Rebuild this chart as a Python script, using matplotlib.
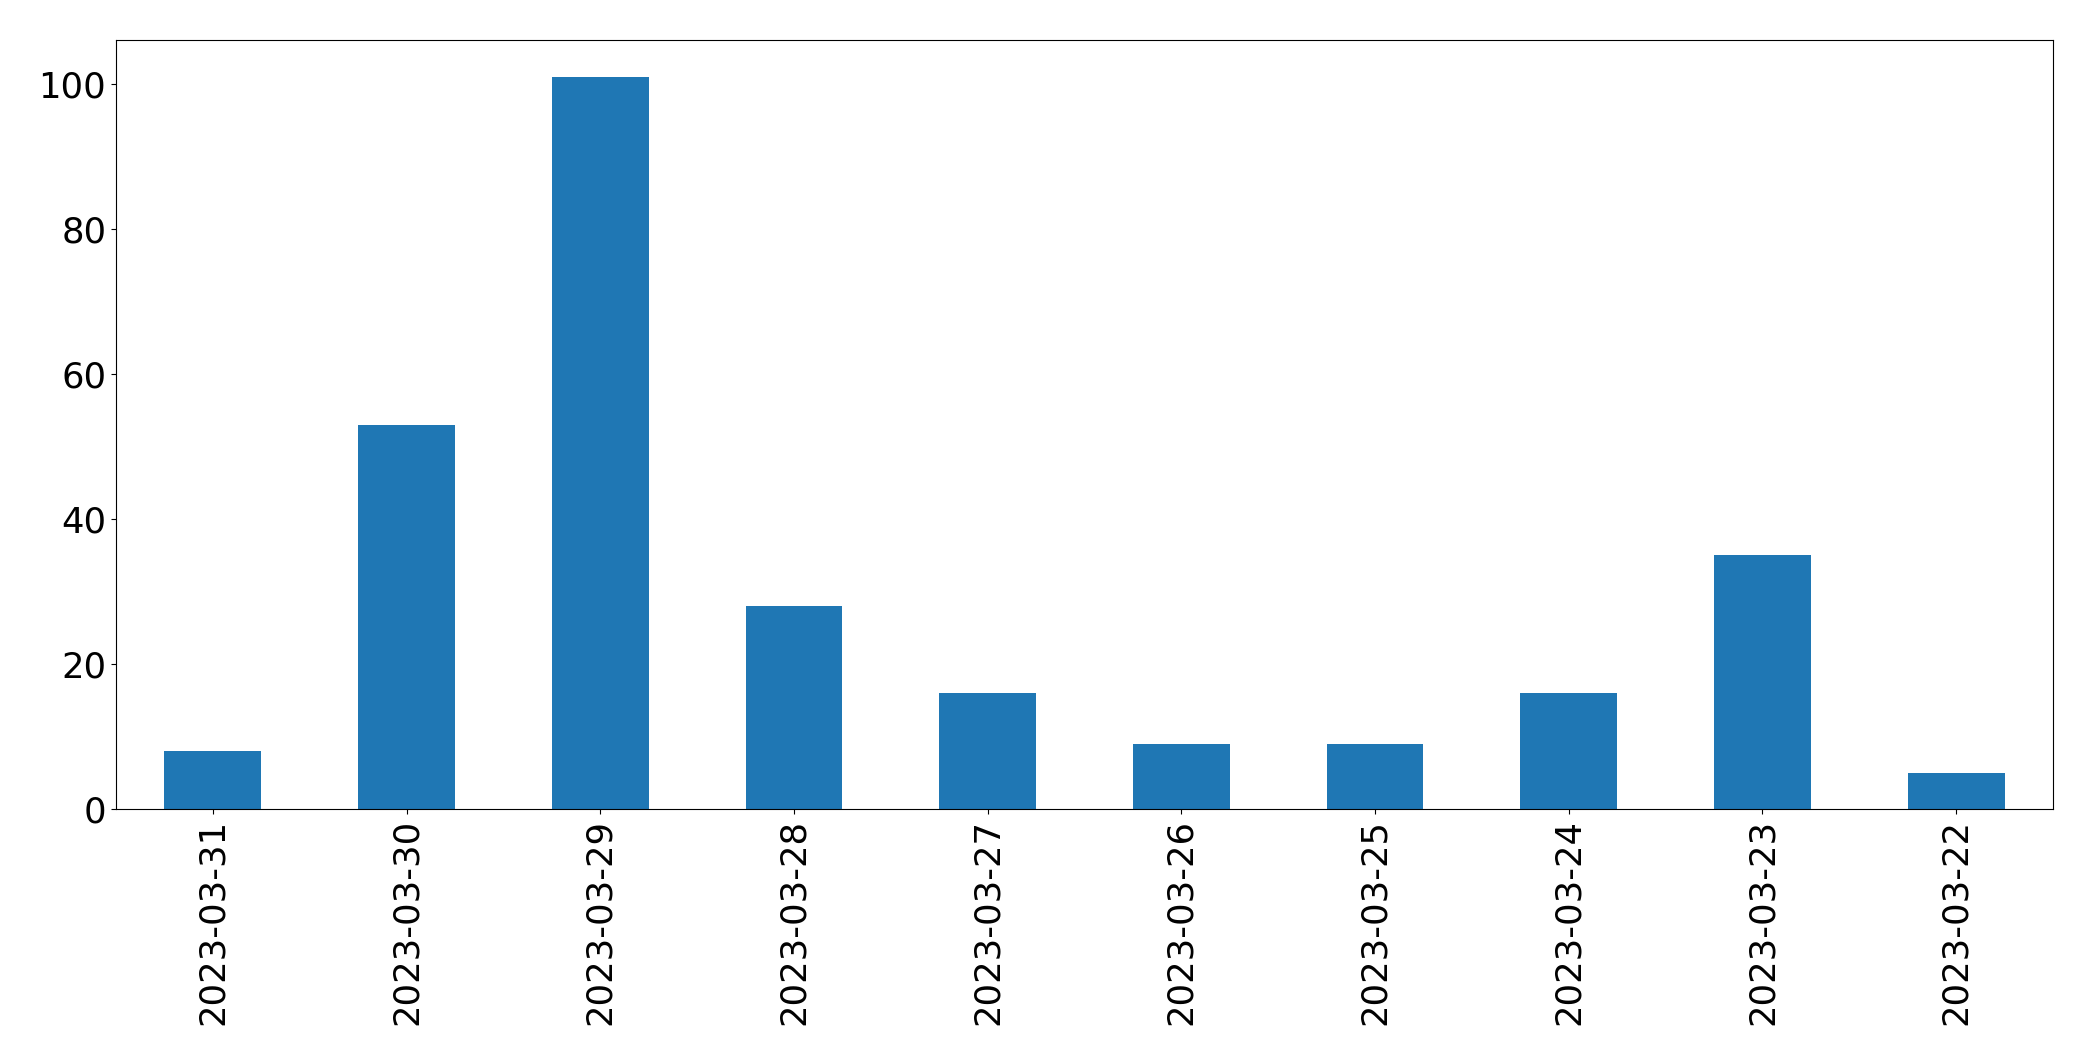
# bar chart of daily counts, newest date first
import matplotlib
matplotlib.use("Agg")
import matplotlib.pyplot as plt
import pandas as pd

# dates and counts
dates = ["2023-03-31", "2023-03-30", "2023-03-29", "2023-03-28", "2023-03-27",
         "2023-03-26", "2023-03-25", "2023-03-24", "2023-03-23", "2023-03-22"]
counts = [8, 53, 101, 28, 16, 9, 9, 16, 35, 5]

series = pd.Series(counts, index=dates)

fig, ax = plt.subplots(figsize=(20.93, 10.61), dpi=100)
series.plot(kind="bar", ax=ax, color="#1f77b4", fontsize=25.5)

# leave room at the bottom for the rotated date labels
fig.subplots_adjust(left=116 / 2093, right=2053 / 2093,
                    top=1 - 40 / 1061, bottom=1 - 809 / 1061)

plt.savefig("out.png", dpi=100)
